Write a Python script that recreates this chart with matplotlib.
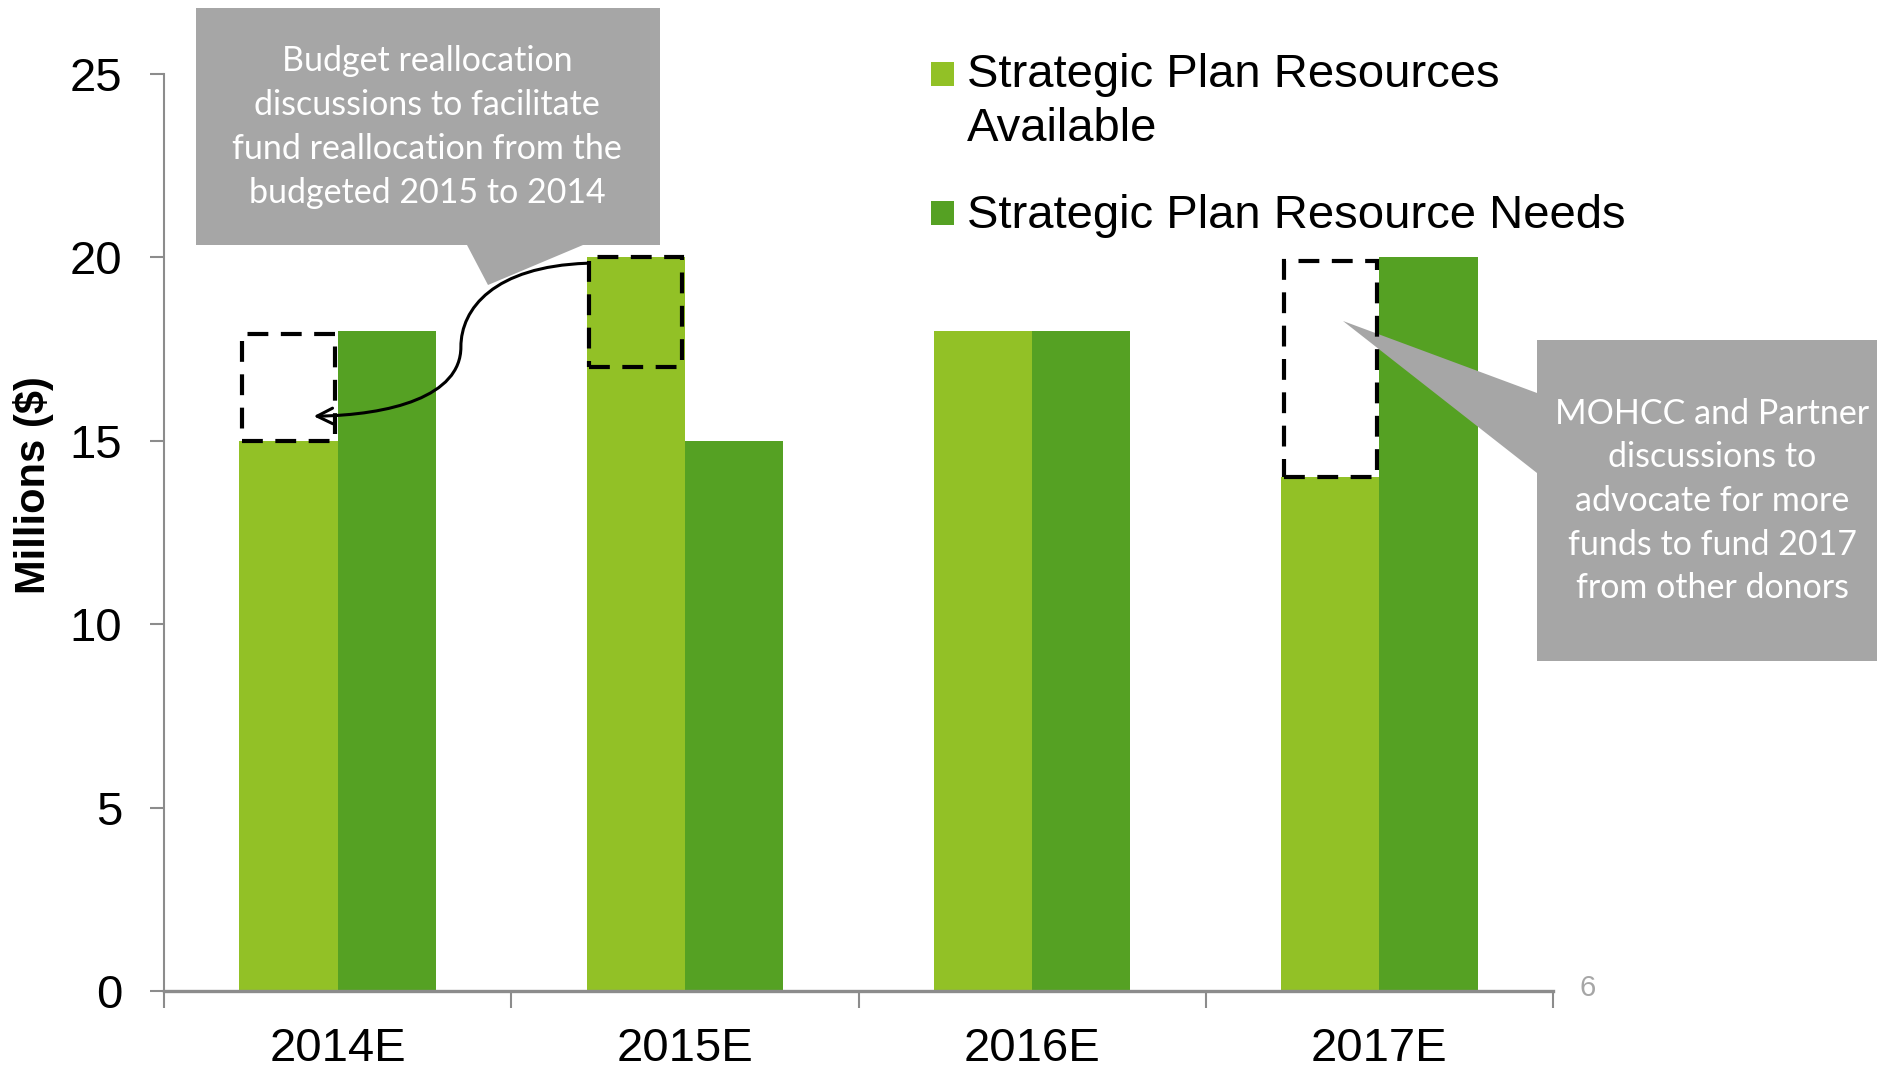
import numpy as np
import matplotlib
matplotlib.use("Agg")
import matplotlib.pyplot as plt
from matplotlib import font_manager
from matplotlib.patches import Rectangle, Polygon, FancyArrowPatch
from matplotlib.path import Path

# data
categories = ["2014E", "2015E", "2016E", "2017E"]
available = [15, 20, 18, 14]
needs = [18, 15, 18, 20]
series_names = ["Strategic Plan Resources\nAvailable", "Strategic Plan Resource Needs"]
colors = ["#92C126", "#55A123"]

note_left = "Budget reallocation\ndiscussions to facilitate\nfund reallocation from the\nbudgeted 2015 to 2014"
note_right = "MOHCC and Partner\ndiscussions to\nadvocate for more\nfunds to fund 2017\nfrom other donors"

names = {f.name for f in font_manager.fontManager.ttflist}
narrow = "Liberation Sans Narrow" if "Liberation Sans Narrow" in names else "Liberation Sans"
callout_font = "Lato"

W, H = 1877, 1071
fig = plt.figure(figsize=(W / 100, H / 100), dpi=100)
ax = fig.add_axes([164 / W, 80 / H, (1553 - 164) / W, (997 - 80) / H])


def fx(px):
    return px / W


def fy(py):
    return 1 - py / H


x = np.arange(len(categories))
w = 0.283
ax.bar(x - w / 2, available, w, color=colors[0], zorder=2)
ax.bar(x + w / 2, needs, w, color=colors[1], zorder=2)

ax.set_xlim(-0.5, len(categories) - 0.5)
ax.set_ylim(0, 25)

# axes styling
for s in ["top", "right"]:
    ax.spines[s].set_visible(False)
ax.spines["left"].set_color("#8C8C8C")
ax.spines["left"].set_linewidth(1.5)
ax.spines["bottom"].set_color("#8C8C8C")
ax.spines["bottom"].set_linewidth(2.4)

ax.set_yticks([0, 5, 10, 15, 20, 25])
ax.tick_params(axis="y", length=10, width=1.5, color="#8C8C8C", pad=20,
               labelsize=34, labelfontfamily=narrow)
ax.set_xticks(np.arange(len(categories) + 1) - 0.5)
ax.set_xticklabels([])
ax.tick_params(axis="x", which="major", length=12, width=1.5, color="#8C8C8C")
ax.set_xticks(x, minor=True)
ax.set_xticklabels(categories, minor=True, fontsize=34, family=narrow)
ax.tick_params(axis="x", which="minor", length=0, pad=26)

fig.text(fx(34), fy(485), "Millions ($)", rotation=90, ha="center", va="center",
         fontsize=30, fontweight="bold", family="Liberation Sans")

# dashed boxes showing the gaps
gap_2014 = needs[0] - available[0]
boxes = [(0, available[0], needs[0] - 0.1),
         (1, available[1] - gap_2014, available[1]),
         (3, available[3], needs[3] - 0.1)]
inset = 0.008
for i, lo, hi in boxes:
    ax.add_patch(Rectangle((i - w + inset, lo), w - 2 * inset, hi - lo, fill=False,
                           ec="black", lw=3, ls=(0, (5, 3)), zorder=6))

# curved arrow from 2015 to 2014
verts = [(0.717, 19.84), (0.45, 19.75), (0.355, 18.6), (0.355, 17.56),
         (0.355, 16.2), (0.15, 15.7), (-0.069, 15.67)]
codes = [Path.MOVETO] + [Path.CURVE4] * 6
ax.add_patch(FancyArrowPatch(path=Path(verts, codes), arrowstyle="->", mutation_scale=28,
                             lw=2.2, color="black", zorder=7))

# callouts
grey = "#A6A6A6"
left_pts = [(196, 8), (660, 8), (660, 245), (583, 245), (488, 285), (467, 245), (196, 245)]
right_pts = [(1537, 340), (1877, 340), (1877, 661), (1537, 661), (1537, 473), (1343, 321), (1537, 393)]
for pts in (left_pts, right_pts):
    ax.add_patch(Polygon([(fx(a), fy(b)) for a, b in pts], closed=True, fc=grey, ec="none",
                         transform=fig.transFigure, clip_on=False, zorder=4))
fig.text(fx(427), fy(127), note_left, ha="center", va="center", color="white",
         fontsize=24.5, family=callout_font, linespacing=1.45)
fig.text(fx(1712), fy(501), note_right, ha="center", va="center", color="white",
         fontsize=24.5, family=callout_font, linespacing=1.45)

# legend
legend_rows = [(74, 102), (213, 216)]
for (sq_y, txt_y), name, c in zip(legend_rows, series_names, colors):
    fig.patches.append(Rectangle((fx(931), fy(sq_y + 12)), 23 / W, 24 / H, fc=c, ec="none",
                                 transform=fig.transFigure, figure=fig))
    fig.text(fx(967), fy(txt_y), name, ha="left", va="center", fontsize=34,
             family=narrow, linespacing=1.29)

fig.text(fx(1588), fy(988), "6", ha="center", va="center", color="#A6A6A6",
         fontsize=21, family=narrow)

fig.savefig("out.png", dpi=100)
